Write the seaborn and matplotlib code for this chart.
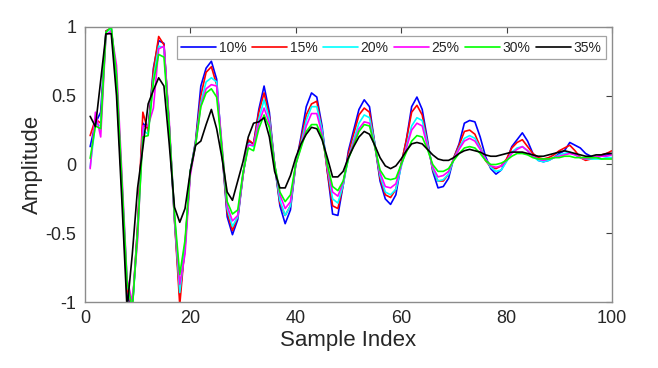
import numpy as np
import pandas as pd
import matplotlib
matplotlib.use("Agg")
import matplotlib.pyplot as plt
import seaborn as sns

# sample index 1..100
sample_index = list(range(1, 101))

amp_10 = [0.13, 0.30, 0.38, 0.97, 0.99, 0.60, -0.15, -0.95, -1.05, -0.45,
          0.30, 0.26, 0.70, 0.90, 0.88, 0.28, -0.40, -0.95, -0.60, -0.05,
          0.17, 0.57, 0.70, 0.75, 0.62, 0.10, -0.38, -0.51, -0.40, -0.08,
          0.17, 0.15, 0.40, 0.57, 0.38, 0.00, -0.30, -0.43, -0.33, 0.00,
          0.20, 0.42, 0.52, 0.49, 0.28, -0.05, -0.36, -0.37, -0.15, 0.10,
          0.25, 0.40, 0.47, 0.42, 0.15, -0.12, -0.25, -0.29, -0.22, 0.00,
          0.18, 0.42, 0.49, 0.40, 0.18, -0.05, -0.17, -0.16, -0.10, 0.05,
          0.15, 0.30, 0.32, 0.31, 0.20, 0.06, -0.03, -0.07, -0.04, 0.03,
          0.13, 0.18, 0.23, 0.17, 0.08, 0.03, 0.02, 0.03, 0.05, 0.08,
          0.10, 0.16, 0.14, 0.12, 0.08, 0.06, 0.05, 0.06, 0.07, 0.08]

amp_15 = [0.21, 0.33, 0.30, 0.97, 0.99, 0.60, -0.15, -0.90, -1.05, -0.45,
          0.38, 0.24, 0.68, 0.93, 0.87, 0.28, -0.40, -1.02, -0.58, -0.05,
          0.16, 0.50, 0.67, 0.71, 0.58, 0.10, -0.35, -0.48, -0.38, -0.08,
          0.18, 0.15, 0.38, 0.52, 0.35, 0.00, -0.28, -0.37, -0.30, 0.00,
          0.18, 0.36, 0.44, 0.46, 0.25, -0.05, -0.30, -0.32, -0.15, 0.08,
          0.22, 0.36, 0.41, 0.38, 0.15, -0.10, -0.22, -0.24, -0.18, 0.00,
          0.18, 0.38, 0.43, 0.36, 0.16, -0.04, -0.12, -0.12, -0.07, 0.05,
          0.14, 0.24, 0.25, 0.22, 0.13, 0.03, -0.02, -0.03, -0.01, 0.04,
          0.12, 0.16, 0.18, 0.13, 0.08, 0.05, 0.04, 0.05, 0.07, 0.10,
          0.12, 0.14, 0.10, 0.05, 0.03, 0.04, 0.05, 0.07, 0.08, 0.10]

amp_20 = [-0.02, 0.30, 0.28, 0.96, 0.99, 0.62, -0.12, -0.85, -1.05, -0.50,
          0.25, 0.22, 0.62, 0.86, 0.85, 0.28, -0.38, -0.93, -0.60, -0.05,
          0.15, 0.45, 0.60, 0.63, 0.60, 0.12, -0.32, -0.45, -0.38, -0.07,
          0.15, 0.13, 0.33, 0.47, 0.33, 0.00, -0.26, -0.37, -0.30, 0.00,
          0.15, 0.32, 0.42, 0.42, 0.25, -0.02, -0.25, -0.28, -0.15, 0.05,
          0.18, 0.30, 0.36, 0.34, 0.15, -0.08, -0.20, -0.22, -0.18, -0.02,
          0.13, 0.28, 0.34, 0.32, 0.15, -0.03, -0.12, -0.11, -0.07, 0.04,
          0.12, 0.19, 0.21, 0.19, 0.12, 0.04, -0.02, -0.05, -0.04, 0.02,
          0.09, 0.12, 0.13, 0.10, 0.06, 0.03, 0.02, 0.03, 0.05, 0.07,
          0.08, 0.09, 0.07, 0.05, 0.04, 0.04, 0.04, 0.04, 0.05, 0.05]

amp_25 = [-0.03, 0.38, 0.20, 0.94, 0.97, 0.72, -0.05, -0.83, -1.00, -0.55,
          0.28, 0.28, 0.41, 0.84, 0.86, 0.32, -0.38, -0.87, -0.65, -0.08,
          0.14, 0.43, 0.55, 0.58, 0.57, 0.15, -0.30, -0.41, -0.37, -0.07,
          0.14, 0.14, 0.30, 0.41, 0.30, 0.00, -0.22, -0.32, -0.27, 0.00,
          0.13, 0.28, 0.37, 0.37, 0.22, -0.02, -0.20, -0.23, -0.13, 0.05,
          0.16, 0.26, 0.31, 0.30, 0.13, -0.06, -0.16, -0.17, -0.14, -0.01,
          0.12, 0.25, 0.30, 0.28, 0.13, -0.02, -0.09, -0.08, -0.05, 0.04,
          0.11, 0.17, 0.19, 0.17, 0.11, 0.04, -0.01, -0.02, -0.01, 0.03,
          0.08, 0.11, 0.13, 0.10, 0.06, 0.04, 0.03, 0.04, 0.05, 0.06,
          0.07, 0.08, 0.07, 0.05, 0.04, 0.05, 0.06, 0.06, 0.06, 0.07]

amp_30 = [0.045, 0.28, 0.26, 0.96, 1.00, 0.65, -0.10, -0.85, -1.05, -0.50,
          0.20, 0.21, 0.60, 0.80, 0.78, 0.28, -0.36, -0.80, -0.55, -0.05,
          0.14, 0.42, 0.52, 0.55, 0.49, 0.12, -0.27, -0.36, -0.33, -0.06,
          0.12, 0.10, 0.26, 0.36, 0.27, 0.00, -0.20, -0.27, -0.22, 0.00,
          0.12, 0.24, 0.29, 0.29, 0.20, 0.00, -0.16, -0.19, -0.12, 0.04,
          0.14, 0.24, 0.29, 0.28, 0.13, -0.04, -0.10, -0.11, -0.10, 0.00,
          0.09, 0.17, 0.21, 0.20, 0.11, 0.00, -0.05, -0.05, -0.03, 0.03,
          0.08, 0.12, 0.13, 0.12, 0.08, 0.03, 0.00, 0.00, 0.01, 0.03,
          0.06, 0.08, 0.08, 0.07, 0.05, 0.04, 0.04, 0.04, 0.05, 0.05,
          0.06, 0.06, 0.05, 0.05, 0.05, 0.05, 0.05, 0.04, 0.04, 0.04]

amp_35 = [0.35, 0.275, 0.61, 0.95, 0.95, 0.50, -0.25, -1.05, -0.65, -0.17,
          0.12, 0.44, 0.54, 0.63, 0.57, 0.15, -0.31, -0.42, -0.32, -0.05,
          0.14, 0.17, 0.29, 0.40, 0.26, 0.05, -0.20, -0.26, -0.12, 0.02,
          0.20, 0.30, 0.31, 0.34, 0.20, -0.05, -0.17, -0.17, -0.08, 0.05,
          0.15, 0.22, 0.27, 0.26, 0.18, 0.05, -0.09, -0.09, -0.05, 0.05,
          0.13, 0.20, 0.24, 0.22, 0.14, 0.05, -0.01, -0.03, -0.01, 0.04,
          0.10, 0.15, 0.16, 0.15, 0.11, 0.07, 0.04, 0.03, 0.03, 0.05,
          0.08, 0.10, 0.11, 0.10, 0.09, 0.07, 0.06, 0.06, 0.07, 0.08,
          0.09, 0.09, 0.09, 0.08, 0.07, 0.06, 0.06, 0.07, 0.08, 0.09,
          0.10, 0.09, 0.08, 0.07, 0.06, 0.06, 0.07, 0.07, 0.08, 0.08]

labels = ["10%", "15%", "20%", "25%", "30%", "35%"]
colors = ["#0000ff", "#ff0000", "#00ffff", "#ff00ff", "#00ff00", "#000000"]

series = [amp_10, amp_15, amp_20, amp_25, amp_30, amp_35]
df = pd.concat([pd.DataFrame({"Sample Index": sample_index, "Amplitude": s, "level": lab})
                for s, lab in zip(series, labels)], ignore_index=True)

sns.set_style("white")
plt.rcParams["font.family"] = ["Liberation Sans", "DejaVu Sans"]

fig = plt.figure(figsize=(6.58, 3.68), dpi=100)
ax = fig.add_axes([0.129, 0.179, 0.801, 0.748])

sns.lineplot(data=df, x="Sample Index", y="Amplitude", hue="level",
             palette=dict(zip(labels, colors)), linewidth=1.2, ax=ax, sort=False)

ax.set_xlim(0, 100)
ax.set_ylim(-1, 1)
ax.set_xticks([0, 20, 40, 60, 80, 100])
ax.set_yticks([-1, -0.5, 0, 0.5, 1])
ax.set_yticklabels(["-1", "-0.5", "0", "0.5", "1"])
ax.tick_params(direction="in", top=True, right=True, length=4, width=0.8,
               color="#404040", labelsize=13, pad=6)
for sp in ax.spines.values():
    sp.set_visible(True)
    sp.set_color("#8c8c8c")
    sp.set_linewidth(1.0)
ax.set_xlabel("Sample Index", fontsize=16, labelpad=2)
ax.set_ylabel("Amplitude", fontsize=16, labelpad=2)

leg = ax.legend(loc="upper right", bbox_to_anchor=(0.988, 0.965), ncol=6,
                fontsize=10, frameon=True, fancybox=False, handlelength=2.5,
                handletextpad=0.2, columnspacing=0.4, borderpad=0.3,
                borderaxespad=0.0)
leg.get_frame().set_edgecolor("#8c8c8c")
leg.get_frame().set_linewidth(0.9)
for line in leg.get_lines():
    line.set_linewidth(1.2)

fig.savefig("out.png", dpi=100)
